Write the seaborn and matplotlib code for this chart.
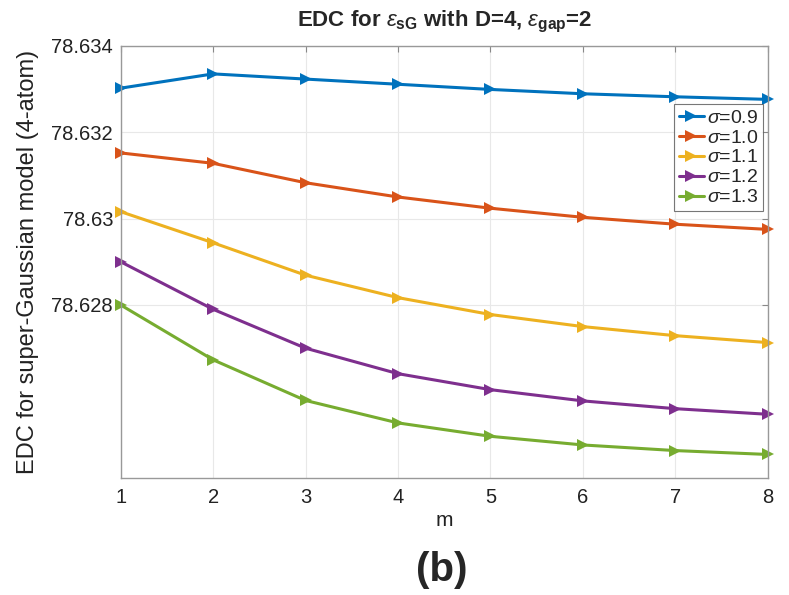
import numpy as np
import pandas as pd
import matplotlib
matplotlib.use("Agg")
import matplotlib.pyplot as plt
import seaborn as sns

m = [1, 2, 3, 4, 5, 6, 7, 8]
sigma_labels = ["$\\sigma$=0.9", "$\\sigma$=1.0", "$\\sigma$=1.1", "$\\sigma$=1.2", "$\\sigma$=1.3"]
edc_09 = [78.63302, 78.63335, 78.63323, 78.63311, 78.63299, 78.63289, 78.63282, 78.63276]
edc_10 = [78.63152, 78.63128, 78.63083, 78.63050, 78.63024, 78.63003, 78.62987, 78.62975]
edc_11 = [78.63016, 78.62944, 78.62869, 78.62817, 78.62778, 78.62750, 78.62729, 78.62713]
edc_12 = [78.62900, 78.62790, 78.62700, 78.62641, 78.62604, 78.62578, 78.62560, 78.62547]
edc_13 = [78.62800, 78.62673, 78.62579, 78.62527, 78.62496, 78.62476, 78.62463, 78.62454]
yticks = [78.628, 78.630, 78.632, 78.634]
ytick_labels = ["78.628", "78.63", "78.632", "78.634"]

colors = ["#0072BD", "#D95319", "#EDB120", "#7E2F8E", "#77AC30"]

series = [edc_09, edc_10, edc_11, edc_12, edc_13]
rows = []
for lab, vals in zip(sigma_labels, series):
    for x, v in zip(m, vals):
        rows.append({"m": x, "edc": v, "sigma": lab})
df = pd.DataFrame(rows)

sns.set_style("white")
plt.rcParams['font.family'] = ['Liberation Sans', 'DejaVu Sans']
plt.rcParams['mathtext.fontset'] = 'custom'
plt.rcParams['mathtext.rm'] = 'Liberation Sans'
plt.rcParams['mathtext.it'] = 'Liberation Sans:italic'
plt.rcParams['mathtext.bf'] = 'Liberation Sans:bold'

fig = plt.figure(figsize=(7.89, 5.95), dpi=100)
ax = fig.add_axes([0.153, 0.197, 0.820, 0.726])

sns.lineplot(data=df, x="m", y="edc", hue="sigma", palette=colors,
             marker=">", markersize=8, markeredgewidth=0, linewidth=2.2,
             ax=ax, hue_order=sigma_labels, clip_on=False)

ax.set_xlim(1, 8)
ax.set_ylim(78.624, 78.634)
ax.set_xticks(m)
ax.set_yticks(yticks)
ax.set_yticklabels(ytick_labels)
ax.tick_params(axis='both', labelsize=14.5, direction='in', length=4,
               color='#888888', top=True, right=True, labelcolor='#222222')
ax.tick_params(axis='x', pad=7)
ax.tick_params(axis='y', pad=5.5)
ax.grid(True, color='#e8e8e8', linewidth=0.8)
for s in ax.spines.values():
    s.set_color('#999999')
    s.set_linewidth(1.0)

ax.set_xlabel("m", fontsize=15, color='#222222', labelpad=3)
ax.set_ylabel("EDC for super-Gaussian model (4-atom)", fontsize=17, color='#222222', labelpad=9)
ax.set_title(r"EDC for $\epsilon_{\mathbf{sG}}$ with D=4, $\epsilon_{\mathbf{gap}}$=2",
             fontsize=16, fontweight='bold', pad=14)

leg = ax.legend(loc='upper right', bbox_to_anchor=(0.993, 0.865), fontsize=14,
                frameon=True, fancybox=False, handlelength=1.3, handletextpad=0.15,
                borderpad=0.25, labelspacing=0.12, borderaxespad=0)
leg.get_frame().set_edgecolor('#555555')
leg.get_frame().set_linewidth(0.8)
leg.set_title(None)

fig.text(0.56, 0.042, "(b)", fontsize=29, fontweight='bold', ha='center', va='center')

fig.savefig("out.png", dpi=100)
